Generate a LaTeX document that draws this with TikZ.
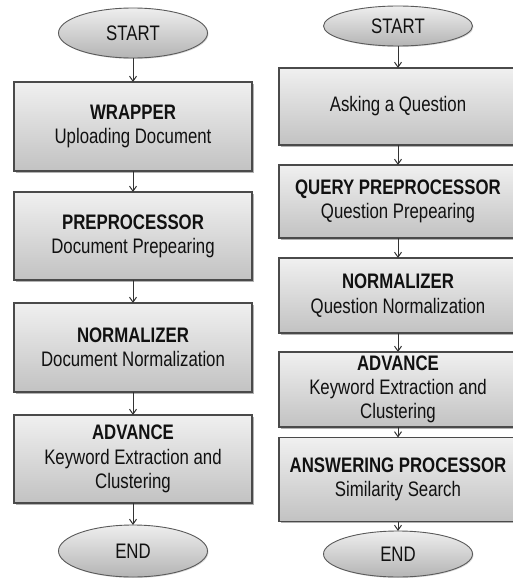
\documentclass[tikz,border=0pt]{standalone}
\usepackage{fontspec}
\setmainfont{Liberation Sans}[FakeStretch=0.8]
\usetikzlibrary{shapes.geometric,arrows.meta,shadows}
\definecolor{txt}{HTML}{111111}
\definecolor{bord}{HTML}{4A4A4A}
\definecolor{ebord}{HTML}{5A5A5A}
\definecolor{gtop}{HTML}{F0F0F0}
\definecolor{gbot}{HTML}{C2C2C2}
\definecolor{etop}{HTML}{EEEEEE}
\definecolor{ebot}{HTML}{B4B4B4}
\definecolor{arr}{HTML}{333333}
\begin{document}
\begin{tikzpicture}[x=1pt,y=-1pt,
  every node/.style={font=\fontsize{21}{24.3}\selectfont, text=txt, inner sep=0pt, outer sep=0pt},
  procbox/.style={rectangle, draw=bord, line width=1.2pt, top color=gtop, bottom color=gbot,
    minimum width=238pt, align=center,
    drop shadow={shadow xshift=1.6pt, shadow yshift=-1.6pt, fill=black, opacity=0.3}},
  term/.style={ellipse, draw=ebord, line width=0.9pt, top color=etop, bottom color=ebot,
    minimum width=149pt,
    drop shadow={shadow xshift=1pt, shadow yshift=-1pt, fill=black, opacity=0.15}},
  flow/.style={draw=arr, line width=1pt, -{Straight Barb[length=5pt,width=7pt]}}
]
\useasboundingbox (0,0) rectangle (513,578);
\fill[white] (0,0) rectangle (513,578);

% left column
\node[term, minimum height=50pt] (ls) at (133,33) {START};
\node[procbox, minimum height=89pt] (l1) at (133,126.5) {\textbf{WRAPPER}\\Uploading Document};
\node[procbox, minimum height=88pt] (l2) at (133,236) {\textbf{PREPROCESSOR}\\Document Prepearing};
\node[procbox, minimum height=89pt] (l3) at (133,347.5) {\textbf{NORMALIZER}\\Document Normalization};
\node[procbox, minimum height=88pt] (l4) at (133,459) {\textbf{ADVANCE}\\Keyword Extraction and\\Clustering};
\node[term, minimum height=52pt] (le) at (133,551) {END};

% right column
\node[term, minimum height=40pt] (rs) at (398,26) {START};
\node[procbox, minimum height=77pt] (r1) at (398,106.5) {Asking a Question};
\node[procbox, minimum height=73pt] (r2) at (398,201.5) {\textbf{QUERY PREPROCESSOR}\\Question Prepearing};
\node[procbox, minimum height=75pt] (r3) at (398,295.5) {\textbf{NORMALIZER}\\Question Normalization};
\node[procbox, minimum height=75pt] (r4) at (398,389.5) {\textbf{ADVANCE}\\Keyword Extraction and\\Clustering};
\node[procbox, minimum height=84pt] (r5) at (398,479.5) {\textbf{ANSWERING PROCESSOR}\\Similarity Search};
\node[term, minimum height=46pt] (re) at (398,554) {END};

\draw[flow] (ls) -- (l1);
\draw[flow] (l1) -- (l2);
\draw[flow] (l2) -- (l3);
\draw[flow] (l3) -- (l4);
\draw[flow] (l4) -- (le);

\draw[flow] (rs) -- (r1);
\draw[flow] (r1) -- (r2);
\draw[flow] (r2) -- (r3);
\draw[flow] (r3) -- (r4);
\draw[flow] (r4) -- (r5);
\draw[flow] (r5) -- (re);
\end{tikzpicture}
\end{document}
